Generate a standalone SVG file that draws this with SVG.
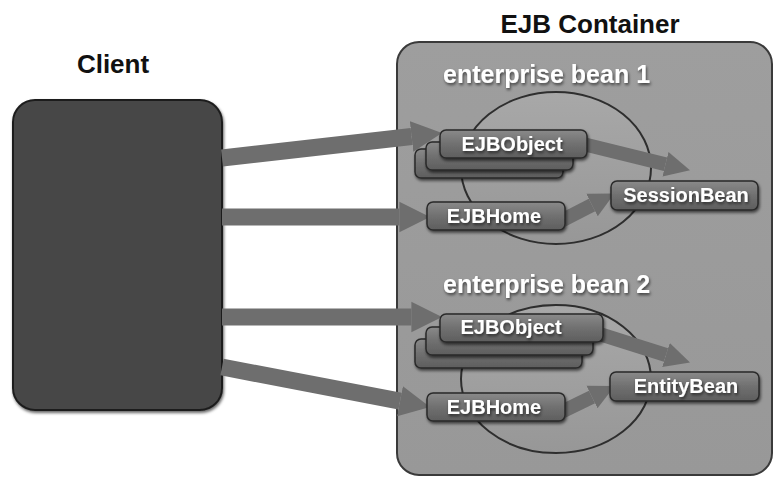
<svg xmlns="http://www.w3.org/2000/svg" width="774" height="479" viewBox="0 0 774 479">
<defs>
<style>
.title{font-family:"Liberation Sans",Arial,sans-serif;font-weight:bold;font-size:26px;fill:#111}
.bean{font-family:"Liberation Sans",Arial,sans-serif;font-weight:bold;font-size:25px;fill:#fff}
.lbl{font-family:"Liberation Sans",Arial,sans-serif;font-weight:bold;font-size:20px;fill:#fff;text-anchor:middle}
.box{fill:url(#boxg);stroke:#2a2a2a;stroke-width:1.5}
.arr{stroke:#6e6e6e;fill:none}
.orb{fill:url(#orbg);stroke:#2e2e2e;stroke-width:2}
</style>
<linearGradient id="boxg" x1="0" y1="0" x2="0" y2="1">
<stop offset="0" stop-color="#8a8a8a"/>
<stop offset="0.5" stop-color="#707070"/>
<stop offset="1" stop-color="#5e5e5e"/>
</linearGradient>
<linearGradient id="orbg" x1="0" y1="0" x2="0" y2="1">
<stop offset="0" stop-color="#a8a8a8"/>
<stop offset="1" stop-color="#979797"/>
</linearGradient>
<linearGradient id="contg" x1="0" y1="0" x2="0" y2="1">
<stop offset="0" stop-color="#9e9e9e"/>
<stop offset="1" stop-color="#989898"/>
</linearGradient>
<filter id="sh" x="-20%" y="-30%" width="140%" height="160%">
<feDropShadow dx="1" dy="2" stdDeviation="1.5" flood-color="#000" flood-opacity="0.6"/>
</filter>
<marker id="ah" viewBox="0 0 10 10" refX="0" refY="5" markerWidth="1.8" markerHeight="2.2" orient="auto" markerUnits="strokeWidth">
<path d="M0,0 L10,5 L0,10 z" fill="#6e6e6e"/>
</marker>
</defs>
<rect width="774" height="479" fill="#fff"/>

<g id="client">
<rect x="13" y="100" width="209" height="310" rx="22" fill="#474747" stroke="#1e1e1e" stroke-width="2" filter="url(#sh)"/>
<text class="title" x="113" y="73" text-anchor="middle">Client</text>
</g>

<g id="ejb-container">
<rect x="397" y="42" width="375" height="433" rx="22" fill="url(#contg)" stroke="#3a3a3a" stroke-width="2"/>
<text class="title" x="590" y="33" text-anchor="middle">EJB Container</text>
</g>

<g id="bean1-orb"><ellipse class="orb" cx="556" cy="168" rx="95" ry="76"/></g>
<g id="bean2-orb"><ellipse class="orb" cx="556" cy="379" rx="95" ry="74"/></g>

<g id="connectors">
<line class="arr" x1="222" y1="158" x2="411.6" y2="136.5" stroke-width="17" marker-end="url(#ah)"/>
<line class="arr" x1="222" y1="217" x2="399.4" y2="217" stroke-width="17" marker-end="url(#ah)"/>
<line class="arr" x1="222" y1="317" x2="411.4" y2="317" stroke-width="17" marker-end="url(#ah)"/>
<line class="arr" x1="222" y1="367" x2="400" y2="401.2" stroke-width="17" marker-end="url(#ah)"/>
<line class="arr" x1="575" y1="142" x2="665.5" y2="164.2" stroke-width="14" marker-end="url(#ah)"/>
<line class="arr" x1="555" y1="224" x2="592" y2="205" stroke-width="14" marker-end="url(#ah)"/>
<line class="arr" x1="590" y1="331" x2="666" y2="355" stroke-width="14" marker-end="url(#ah)"/>
<line class="arr" x1="555" y1="415" x2="592" y2="397" stroke-width="14" marker-end="url(#ah)"/>
</g>

<g id="enterprise-bean-1">
<text class="bean" x="443" y="83" filter="url(#sh)">enterprise bean 1</text>
</g>
<g id="ejbobject-1">
<rect class="box" x="415" y="149" width="148" height="29" rx="6" filter="url(#sh)"/>
<rect class="box" x="426" y="142" width="147" height="28" rx="6" filter="url(#sh)"/>
<rect class="box" x="440" y="130" width="147" height="28" rx="6" filter="url(#sh)"/>
<text class="lbl" x="512" y="151" filter="url(#sh)">EJBObject</text>
</g>
<g id="ejbhome-1">
<rect class="box" x="427" y="202" width="138" height="28" rx="6" filter="url(#sh)"/>
<text class="lbl" x="494" y="223" filter="url(#sh)">EJBHome</text>
</g>
<g id="sessionbean">
<rect class="box" x="611" y="181" width="147" height="29" rx="6" filter="url(#sh)"/>
<text class="lbl" x="686" y="202" filter="url(#sh)">SessionBean</text>
</g>

<g id="enterprise-bean-2">
<text class="bean" x="443" y="293" filter="url(#sh)">enterprise bean 2</text>
</g>
<g id="ejbobject-2">
<rect class="box" x="415" y="339" width="167" height="29" rx="6" filter="url(#sh)"/>
<rect class="box" x="426" y="327" width="167" height="28" rx="6" filter="url(#sh)"/>
<rect class="box" x="440" y="314" width="163" height="28" rx="6" filter="url(#sh)"/>
<text class="lbl" x="511" y="334" filter="url(#sh)">EJBObject</text>
</g>
<g id="ejbhome-2">
<rect class="box" x="427" y="393" width="138" height="28" rx="6" filter="url(#sh)"/>
<text class="lbl" x="494" y="414" filter="url(#sh)">EJBHome</text>
</g>
<g id="entitybean">
<rect class="box" x="610" y="372" width="149" height="29" rx="6" filter="url(#sh)"/>
<text class="lbl" x="686" y="393" filter="url(#sh)">EntityBean</text>
</g>
</svg>
